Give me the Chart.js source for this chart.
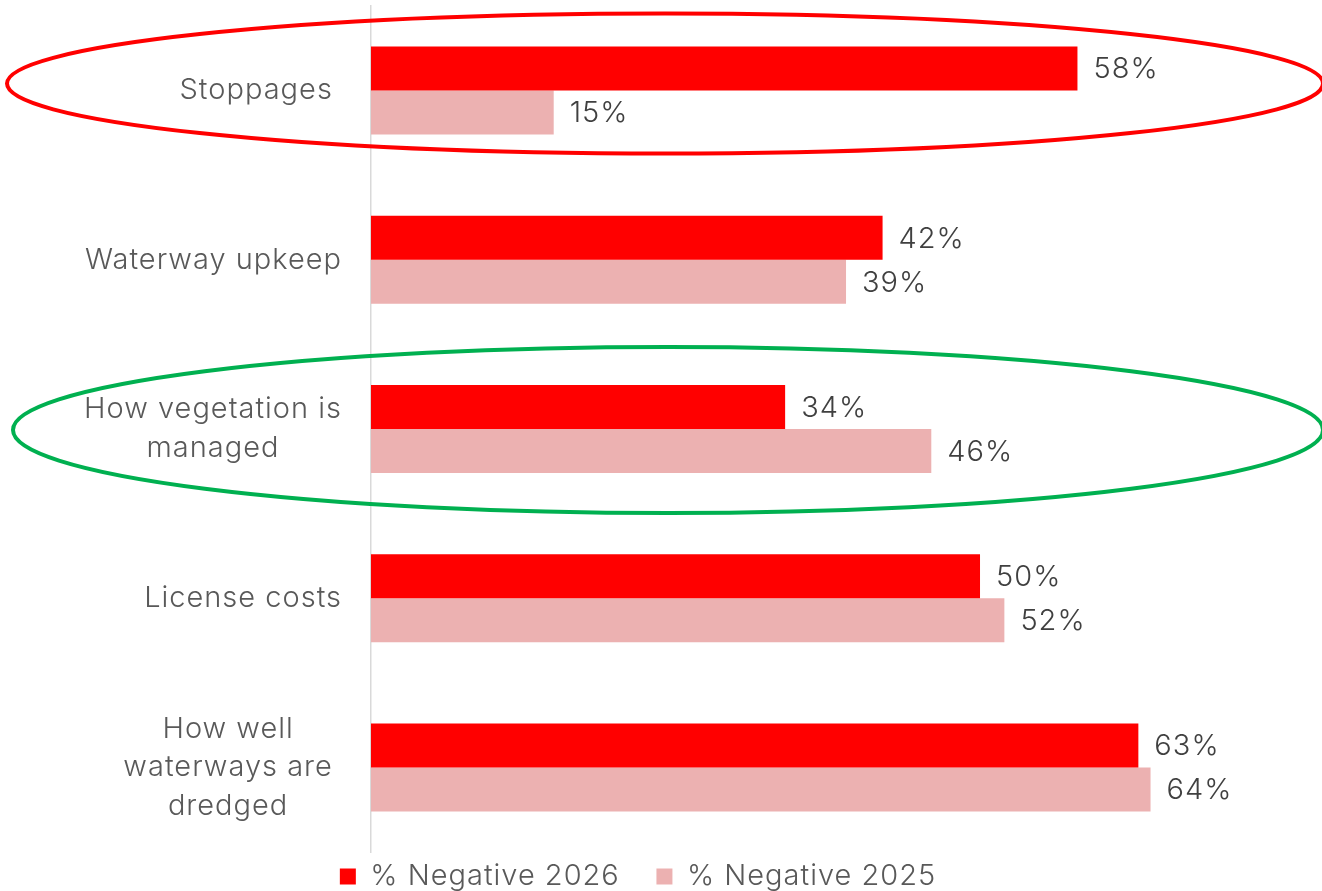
<!DOCTYPE html>
<html>
<head>
<meta charset="utf-8">
<script src="https://cdn.jsdelivr.net/npm/chart.js@4"></script>
<style>
  html, body { margin: 0; padding: 0; background: #fff; }
  #wrap { width: 1322px; height: 891px; }
</style>
</head>
<body>
<div id="wrap"><canvas id="barChart"></canvas></div>
<script>
const categories = [
    ['Stoppages '],
    ['Waterway upkeep'],
    ['How vegetation is', 'managed'],
    ['License costs'],
    ['How well ', 'waterways are ', 'dredged ']
];
const negative2026 = [58, 42, 34, 50, 63];
const negative2025 = [15, 39, 46, 52, 64];
const seriesNames = ['% Negative 2026', '% Negative 2025'];
const seriesColors = ['#FF0000', '#ECB1B1'];
// categories circled on the slide
const highlights = [
    {index: 0, color: '#FF0000', left: 7, right: 1323, dy: -7, ry: 70},
    {index: 2, color: '#00B050', left: 13, right: 1323, dy: 1, ry: 83}
];

const FONT = 'Inter, "Noto Sans", sans-serif';
const SPACING = '1px';

// the slide font is wider than Inter, so spread the letters a bit
const spacing = {
    id: 'spacing',
    beforeLayout(chart) { chart.ctx.letterSpacing = SPACING; },
    beforeDraw(chart) { chart.ctx.letterSpacing = SPACING; }
};

const categoryLabels = {
    id: 'categoryLabels',
    afterDraw(chart) {
        const ctx = chart.ctx, y = chart.scales.y;
        const right = chart.chartArea.left - 29;
        const lh = 38.5;
        ctx.save();
        ctx.font = '300 29px ' + FONT;
        ctx.fillStyle = '#595959';
        ctx.textAlign = 'center';
        ctx.textBaseline = 'middle';
        categories.forEach((lines, i) => {
            const w = Math.max(...lines.map(l => ctx.measureText(l).width));
            const cx = right - w / 2;
            const cy = y.getPixelForValue(i);
            lines.forEach((l, k) => {
                ctx.fillText(l, cx, cy + (k - (lines.length - 1) / 2) * lh);
            });
        });
        ctx.restore();
    }
};

const valueLabels = {
    id: 'valueLabels',
    afterDatasetsDraw(chart) {
        const ctx = chart.ctx;
        ctx.save();
        ctx.font = '300 29px ' + FONT;
        ctx.fillStyle = '#404040';
        ctx.textAlign = 'left';
        ctx.textBaseline = 'middle';
        chart.data.datasets.forEach((ds, d) => {
            chart.getDatasetMeta(d).data.forEach((bar, i) => {
                ctx.fillText(ds.data[i] + '%', bar.x + 16, bar.y + 1);
            });
        });
        ctx.restore();
    }
};

const ellipses = {
    id: 'ellipses',
    afterDraw(chart) {
        const ctx = chart.ctx, y = chart.scales.y;
        ctx.save();
        ctx.lineWidth = 4;
        highlights.forEach(h => {
            const cy = y.getPixelForValue(h.index) + h.dy;
            ctx.strokeStyle = h.color;
            ctx.beginPath();
            ctx.ellipse((h.left + h.right) / 2, cy, (h.right - h.left) / 2, h.ry, 0, 0, Math.PI * 2);
            ctx.stroke();
        });
        ctx.restore();
    }
};

new Chart(
    document.getElementById('barChart'),
    {
        type: 'bar',
        data: {
            labels: categories,
            datasets: [
                {
                    label: seriesNames[0],
                    data: negative2026,
                    backgroundColor: seriesColors[0]
                },
                {
                    label: seriesNames[1],
                    data: negative2025,
                    backgroundColor: seriesColors[1]
                }
            ]
        },
        options: {
            indexAxis: 'y',
            responsive: true,
            maintainAspectRatio: false,
            animation: false,
            categoryPercentage: 0.52,
            barPercentage: 1,
            layout: {padding: {top: 6, right: 46, left: 0, bottom: -10}},
            scales: {
                x: {
                    min: 0,
                    max: 74.3,
                    ticks: {display: false},
                    grid: {display: false},
                    border: {display: false},
                    afterFit(s) { s.height = 10; }
                },
                y: {
                    ticks: {display: false},
                    grid: {display: false},
                    border: {display: true, color: '#D9D9D9', width: 1.5},
                    afterFit(s) { s.width = 371; }
                }
            },
            plugins: {
                tooltip: {enabled: false},
                legend: {
                    position: 'bottom',
                    labels: {
                        padding: 0,
                        boxWidth: 16,
                        boxHeight: 16,
                        color: '#595959',
                        font: {size: 29, family: FONT, weight: '300'},
                        generateLabels(chart) {
                            return chart.data.datasets.map((ds, i) => ({
                                text: i === 0 ? ds.label + '    ' : ds.label,
                                fillStyle: ds.backgroundColor,
                                strokeStyle: ds.backgroundColor,
                                lineWidth: 0,
                                fontColor: '#595959',
                                datasetIndex: i
                            }));
                        }
                    }
                }
            }
        },
        plugins: [spacing, categoryLabels, valueLabels, ellipses]
    }
);
</script>
</body>
</html>
